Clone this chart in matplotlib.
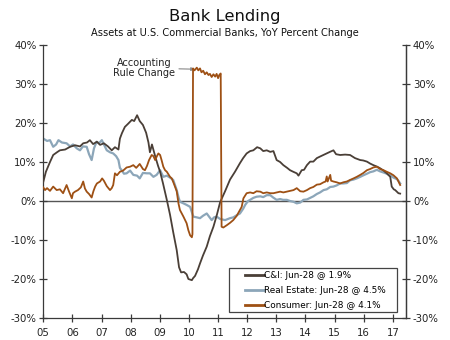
import matplotlib
matplotlib.use("Agg")
import matplotlib.pyplot as plt
from matplotlib.patches import Rectangle

plt.rcParams['font.family'] = ['DejaVu Sans']

# Year-over-year growth, decimal year -> percent
ci_years = [2005.00, 2005.09, 2005.23, 2005.34, 2005.47, 2005.57, 2005.75, 2005.92, 2006.09, 2006.26,
            2006.37, 2006.50, 2006.60, 2006.71, 2006.84, 2006.95, 2007.08, 2007.22, 2007.35, 2007.46,
            2007.58, 2007.63, 2007.70, 2007.80, 2007.91, 2008.04, 2008.12, 2008.22, 2008.31, 2008.42,
            2008.53, 2008.61, 2008.66, 2008.73, 2008.84, 2008.94, 2009.01, 2009.11, 2009.24, 2009.35,
            2009.46, 2009.58, 2009.66, 2009.73, 2009.83, 2009.92, 2009.98, 2010.10, 2010.14, 2010.21,
            2010.31, 2010.38, 2010.48, 2010.61, 2010.72, 2010.84, 2010.96, 2011.07, 2011.24, 2011.41,
            2011.58, 2011.75, 2011.86, 2011.98, 2012.10, 2012.21, 2012.34, 2012.45, 2012.55, 2012.67,
            2012.79, 2012.90, 2013.01, 2013.13, 2013.24, 2013.37, 2013.47, 2013.58, 2013.70, 2013.76,
            2013.87, 2013.95, 2014.05, 2014.16, 2014.27, 2014.39, 2014.50, 2014.67, 2014.84, 2014.96,
            2015.05, 2015.19, 2015.36, 2015.53, 2015.70, 2015.88, 2015.98, 2016.11, 2016.22, 2016.33,
            2016.46, 2016.56, 2016.68, 2016.79, 2016.91, 2016.96, 2017.03, 2017.08, 2017.19, 2017.25]
ci_values = [4.9, 7.5, 10.0, 11.8, 12.5, 13.0, 13.2, 13.9, 14.3, 14.0,
             14.8, 15.0, 15.6, 14.6, 15.2, 14.4, 14.8, 14.0, 13.0, 13.8,
             13.2, 16.0, 17.4, 19.0, 19.8, 20.8, 20.5, 22.0, 20.5, 19.5,
             17.5, 15.0, 12.5, 14.5, 11.5, 9.0, 7.5, 4.5, 0.3, -3.5,
             -8.0, -12.6, -17.0, -18.3, -18.2, -18.8, -20.0, -20.3, -19.8, -19.2,
             -17.5, -16.0, -14.0, -11.7, -9.0, -6.6, -3.5, -0.3, 2.5, 5.5,
             7.5, 9.7, 11.0, 12.2, 12.8, 13.0, 13.8, 13.5, 12.8, 13.0,
             12.6, 12.8, 10.5, 10.0, 9.2, 8.5, 7.9, 7.5, 7.1, 6.5,
             7.9, 8.0, 9.2, 10.1, 10.1, 11.0, 11.4, 12.0, 12.6, 13.0,
             12.0, 11.8, 11.9, 11.8, 11.0, 10.5, 10.4, 10.1, 9.6, 9.2,
             8.8, 8.4, 7.8, 7.1, 6.2, 3.7, 3.0, 2.8, 2.0, 1.9]

re_years = [2005.00, 2005.13, 2005.23, 2005.34, 2005.44, 2005.52, 2005.64, 2005.80, 2005.92, 2006.02,
            2006.15, 2006.26, 2006.36, 2006.49, 2006.57, 2006.66, 2006.74, 2006.83, 2006.91, 2007.01,
            2007.08, 2007.18, 2007.29, 2007.40, 2007.50, 2007.58, 2007.63, 2007.69, 2007.77, 2007.86,
            2007.98, 2008.09, 2008.22, 2008.31, 2008.42, 2008.55, 2008.66, 2008.78, 2008.89, 2009.01,
            2009.12, 2009.24, 2009.35, 2009.46, 2009.58, 2009.64, 2009.69, 2009.81, 2009.92, 2010.04,
            2010.15, 2010.27, 2010.38, 2010.48, 2010.61, 2010.69, 2010.78, 2010.86, 2010.95, 2011.07,
            2011.24, 2011.41, 2011.52, 2011.65, 2011.75, 2011.86, 2011.93, 2012.03, 2012.10, 2012.21,
            2012.32, 2012.45, 2012.55, 2012.67, 2012.79, 2012.89, 2013.01, 2013.13, 2013.23, 2013.36,
            2013.47, 2013.59, 2013.70, 2013.82, 2013.93, 2014.05, 2014.16, 2014.27, 2014.39, 2014.50,
            2014.62, 2014.73, 2014.85, 2014.96, 2015.07, 2015.19, 2015.30, 2015.42, 2015.53, 2015.65,
            2015.76, 2015.88, 2015.99, 2016.11, 2016.22, 2016.33, 2016.45, 2016.56, 2016.68, 2016.79,
            2016.91, 2017.02, 2017.14, 2017.19, 2017.25]
re_values = [16.0, 15.4, 15.6, 13.9, 14.5, 15.6, 15.0, 14.8, 14.0, 14.5,
             13.5, 13.0, 14.0, 13.9, 12.0, 10.5, 13.5, 15.2, 14.8, 15.6,
             14.5, 13.0, 12.5, 12.2, 11.5, 10.5, 8.5, 7.9, 7.0, 7.1,
             7.8, 6.7, 6.5, 5.8, 7.2, 7.1, 7.1, 6.2, 6.7, 7.9,
             6.2, 6.5, 6.0, 5.4, 2.8, 1.0, -0.2, -0.6, -1.0, -1.5,
             -4.0, -4.2, -4.4, -3.8, -3.2, -4.0, -4.9, -4.2, -4.0, -4.6,
             -4.9, -4.4, -4.2, -3.6, -3.2, -2.0, -1.0, 0.0, 0.3, 0.8,
             1.1, 1.2, 1.0, 1.5, 1.5, 0.9, 0.3, 0.5, 0.3, 0.3,
             0.0, -0.2, -0.6, -0.4, 0.3, 0.4, 0.8, 1.2, 1.8, 2.2,
             2.8, 3.0, 3.6, 3.7, 4.0, 4.5, 4.5, 4.6, 5.3, 5.5,
             5.8, 6.2, 6.6, 7.0, 7.4, 7.6, 8.0, 7.6, 7.3, 7.0,
             6.6, 6.0, 5.6, 5.2, 4.5]

cons_years = [2005.00, 2005.06, 2005.13, 2005.23, 2005.34, 2005.46, 2005.57, 2005.68, 2005.80, 2005.88,
              2005.98, 2006.02, 2006.09, 2006.19, 2006.29, 2006.37, 2006.43, 2006.49, 2006.57, 2006.66,
              2006.72, 2006.78, 2006.84, 2006.95, 2007.02, 2007.08, 2007.18, 2007.29, 2007.35, 2007.40,
              2007.46, 2007.53, 2007.63, 2007.74, 2007.86, 2007.98, 2008.09, 2008.19, 2008.31, 2008.42,
              2008.49, 2008.56, 2008.63, 2008.72, 2008.78, 2008.84, 2008.90, 2008.95, 2009.01, 2009.06,
              2009.12, 2009.18, 2009.24, 2009.35, 2009.41, 2009.48, 2009.58, 2009.64, 2009.69, 2009.81,
              2009.92, 2009.98, 2010.04, 2010.10, 2010.12, 2010.14, 2010.19, 2010.27, 2010.32, 2010.38,
              2010.43, 2010.49, 2010.55, 2010.61, 2010.67, 2010.72, 2010.78, 2010.84, 2010.90, 2010.95,
              2011.00, 2011.04, 2011.09, 2011.12, 2011.18, 2011.30, 2011.41, 2011.52, 2011.64, 2011.75,
              2011.81, 2011.87, 2011.98, 2012.10, 2012.21, 2012.32, 2012.45, 2012.55, 2012.67, 2012.79,
              2012.90, 2013.01, 2013.13, 2013.24, 2013.36, 2013.47, 2013.59, 2013.70, 2013.82, 2013.93,
              2014.05, 2014.16, 2014.27, 2014.39, 2014.50, 2014.62, 2014.69, 2014.73, 2014.76, 2014.85,
              2014.88, 2014.96, 2015.07, 2015.19, 2015.30, 2015.42, 2015.53, 2015.65, 2015.76, 2015.88,
              2015.99, 2016.11, 2016.22, 2016.33, 2016.45, 2016.56, 2016.68, 2016.79, 2016.91, 2017.02,
              2017.14, 2017.25]
cons_values = [3.5, 2.8, 3.3, 2.6, 3.7, 2.8, 3.0, 2.0, 4.1, 2.5,
               0.7, 2.0, 2.4, 2.8, 3.5, 5.0, 3.2, 2.4, 1.8, 0.9,
               2.5, 3.7, 4.5, 5.0, 5.8, 5.2, 3.8, 2.8, 3.3, 4.1,
               7.1, 6.6, 7.5, 7.8, 8.6, 8.8, 9.2, 8.5, 9.5, 8.2,
               7.9, 9.0, 10.5, 11.8, 11.5, 10.5, 11.5, 12.2, 11.8, 10.5,
               8.8, 7.9, 7.5, 6.2, 5.8, 4.5, 2.5, -0.6, -2.3, -4.0,
               -5.7, -7.5, -8.8, -9.3, -8.5, 34.0, 33.5, 34.2, 33.5, 34.0,
               33.0, 33.4, 32.5, 33.0, 32.3, 32.6, 31.8, 32.5, 31.9, 32.6,
               31.5, 32.3, 32.7, -6.6, -6.8, -6.2, -5.6, -4.9, -3.8, -2.3,
               -1.5, 0.7, 2.0, 2.2, 2.0, 2.5, 2.4, 2.0, 2.2, 2.0,
               2.0, 2.2, 2.4, 2.2, 2.4, 2.6, 2.8, 3.3, 2.5, 2.4,
               2.8, 3.3, 3.6, 4.2, 4.3, 4.8, 5.0, 6.3, 5.0, 6.7,
               5.2, 5.0, 4.8, 4.5, 4.8, 5.0, 5.4, 5.8, 6.2, 6.7,
               7.2, 7.9, 8.2, 8.6, 8.8, 8.2, 7.9, 7.5, 7.1, 6.6,
               5.8, 4.1]

series_labels = ["C&I: Jun-28 @ 1.9%", "Real Estate: Jun-28 @ 4.5%", "Consumer: Jun-28 @ 4.1%"]
year_ticks = list(range(2005, 2018))
year_labels = [f"{y % 100:02d}" for y in year_ticks]
pct_ticks = list(range(-30, 41, 10))
pct_labels = [f"{t}%" for t in pct_ticks]

c_ci = "#4a3f37"
c_re = "#8ca6b9"
c_cons = "#9e5014"
c_axis = "#3a3a3a"
c_text = "#222222"

fig = plt.figure(figsize=(4.5, 3.4), dpi=100)
ax = fig.add_axes([0.0962, 0.0647, 0.806, 0.8029])

ax.axhline(0, color="#555555", lw=1.0, zorder=1)
ax.plot(ci_years, ci_values, color=c_ci, lw=1.3, label=series_labels[0], zorder=3)
ax.plot(re_years, re_values, color=c_re, lw=1.6, label=series_labels[1], zorder=2)
ax.plot(cons_years, cons_values, color=c_cons, lw=1.3, label=series_labels[2], zorder=4)

ax.set_xlim(2005.0, 2017.45)
ax.set_ylim(-30, 40)
ax.set_xticks(year_ticks)
ax.set_xticklabels(year_labels)
ax.set_yticks(pct_ticks)
ax.set_yticklabels(pct_labels)

ax.spines["top"].set_visible(False)
for s in ["left", "right", "bottom"]:
    ax.spines[s].set_color(c_axis)
    ax.spines[s].set_linewidth(0.9)
ax.tick_params(axis="both", direction="inout", length=6, width=0.9, color=c_axis,
               labelsize=7.3, labelcolor=c_text, pad=2)
ax.tick_params(axis="x", pad=4)

ax2 = ax.twinx()
ax2.set_ylim(-30, 40)
ax2.set_yticks(pct_ticks)
ax2.set_yticklabels(pct_labels)
for s in ["top", "left", "bottom"]:
    ax2.spines[s].set_visible(False)
ax2.spines["right"].set_color(c_axis)
ax2.spines["right"].set_linewidth(0.9)
ax2.tick_params(axis="y", direction="inout", length=6, width=0.9, color=c_axis,
                labelsize=7.3, labelcolor=c_text, pad=2)

ax.annotate("Accounting\nRule Change", xy=(2010.2, 33.8), xytext=(2008.45, 34.1),
            ha="center", va="center", fontsize=7.0, color=c_text,
            linespacing=1.0,
            arrowprops=dict(arrowstyle="-|>", color="#888888", lw=0.8,
                            mutation_scale=5, shrinkA=1, shrinkB=0))

# Legend box drawn separately so its padding can be wider than tall
ax.add_patch(Rectangle((0.512, 0.022), 0.463, 0.161, transform=ax.transAxes,
                       facecolor="white", edgecolor="#444444", lw=0.9, zorder=5))
leg = ax.legend(loc="upper left", bbox_to_anchor=(0.556, 0.172), fontsize=6.4,
                frameon=False, handlelength=2.1, handletextpad=0.0, borderpad=0,
                labelspacing=0.68, borderaxespad=0)
leg.set_zorder(6)
for line in leg.get_lines():
    line.set_linewidth(2.0)

fig.text(0.5, 1 - 17 / 340, "Bank Lending", ha="center", va="center", fontsize=11.8, color="#111111")
fig.text(0.5, 1 - 33 / 340, "Assets at U.S. Commercial Banks, YoY Percent Change",
         ha="center", va="center", fontsize=7.1, color="#111111")

fig.savefig("out.png", dpi=100)
